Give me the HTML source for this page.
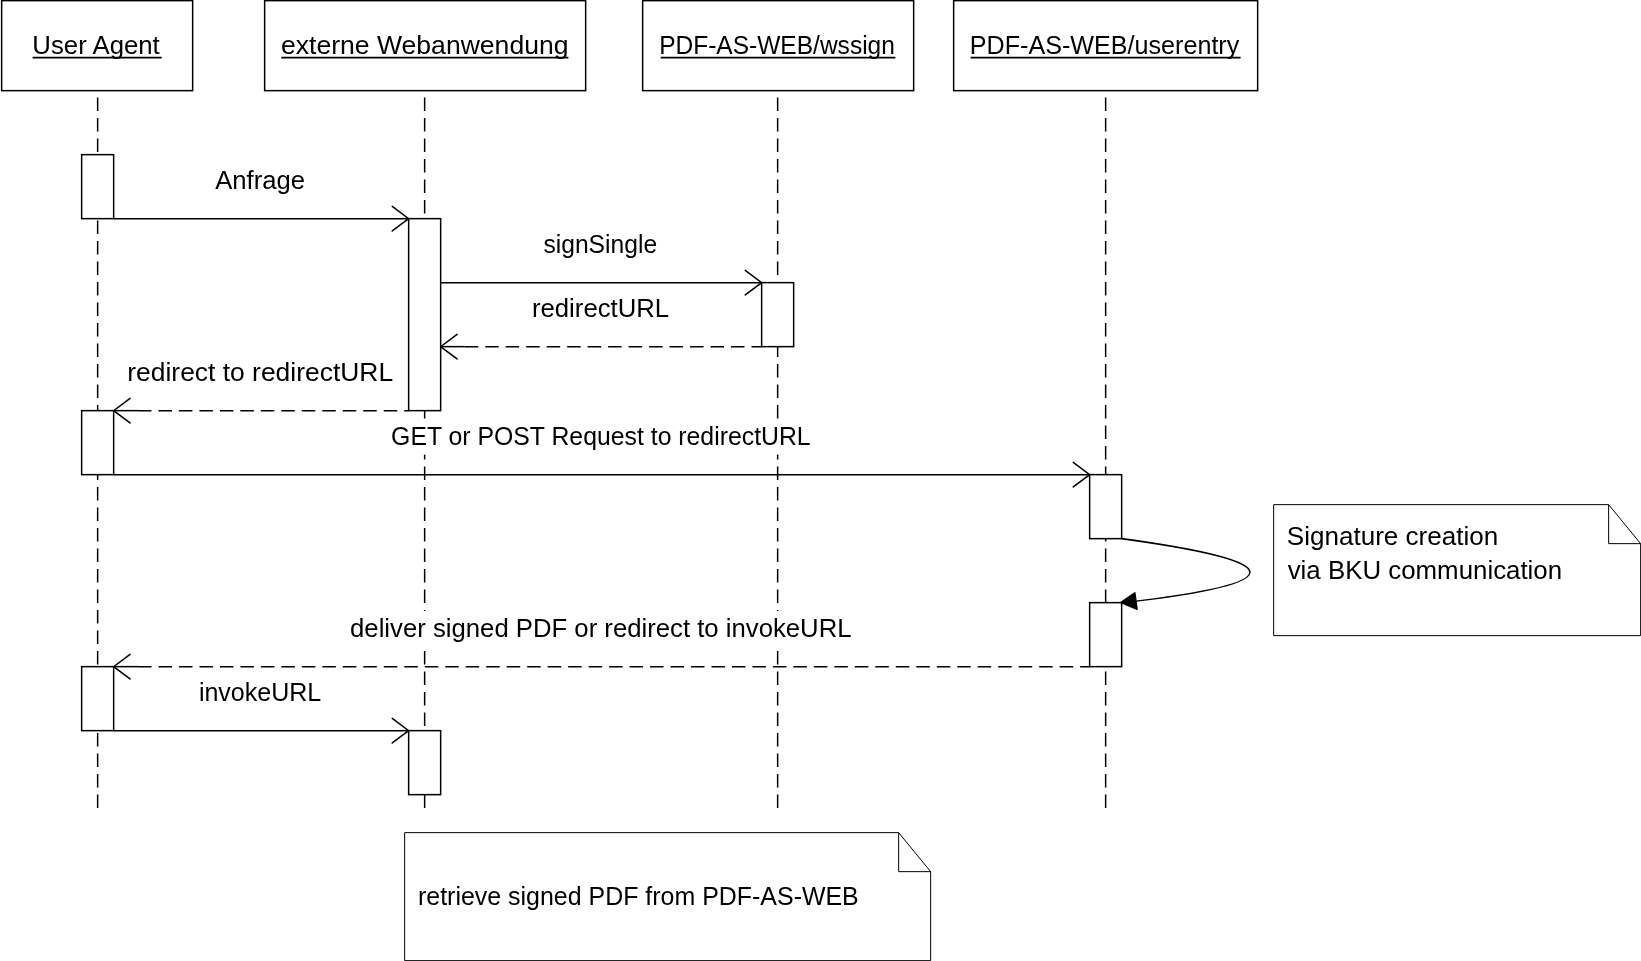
<!DOCTYPE html><html><head><meta charset="utf-8"><style>html,body{margin:0;padding:0;background:#fff;width:1641px;height:961px;overflow:hidden}svg{display:block;will-change:transform}text{font-family:"Liberation Sans",sans-serif;font-size:25px;fill:#000}</style></head><body>
<svg width="1641" height="961" viewBox="0 0 1641 961">
<rect x="0" y="0" width="1641" height="961" fill="#fff"/>
<g transform="translate(0.15,0.15)">
<g fill="none" stroke="#000" stroke-width="1.5">
<rect x="1.5" y="0.5" width="191.0" height="90"/>
<rect x="264.5" y="0.5" width="321.0" height="90"/>
<rect x="642.5" y="0.5" width="271.0" height="90"/>
<rect x="953.5" y="0.5" width="304.0" height="90"/>
<line x1="97.5" y1="97.3" x2="97.5" y2="808.2" stroke-dasharray="13.6 6.9"/>
<line x1="424.5" y1="97.3" x2="424.5" y2="808.2" stroke-dasharray="13.6 6.9"/>
<line x1="777.5" y1="97.3" x2="777.5" y2="808.2" stroke-dasharray="13.6 6.9"/>
<line x1="1105.5" y1="97.3" x2="1105.5" y2="808.2" stroke-dasharray="13.6 6.9"/>
</g>
<rect x="212.2" y="162.9" width="95.8" height="35.7" fill="#fff"/>
<rect x="540.4" y="226.9" width="119.7" height="35.7" fill="#fff"/>
<rect x="528.9" y="290.9" width="143.2" height="35.7" fill="#fff"/>
<rect x="124.3" y="354.9" width="271.8" height="35.7" fill="#fff"/>
<rect x="388.1" y="418.8" width="425.5" height="35.7" fill="#fff"/>
<rect x="347.1" y="610.9" width="507.5" height="35.7" fill="#fff"/>
<rect x="195.9" y="674.9" width="128.4" height="35.7" fill="#fff"/>
<g fill="none" stroke="#000" stroke-width="1.5">
<line x1="113.5" y1="218.5" x2="408.5" y2="218.5"/>
<polyline points="392.1,206.2 408.5,218.5 392.1,230.8" stroke-linecap="round"/>
<line x1="440.5" y1="282.5" x2="761.5" y2="282.5"/>
<polyline points="745.1,270.2 761.5,282.5 745.1,294.8" stroke-linecap="round"/>
<line x1="113.5" y1="474.5" x2="1089.5" y2="474.5"/>
<polyline points="1073.1,462.2 1089.5,474.5 1073.1,486.8" stroke-linecap="round"/>
<line x1="113.5" y1="730.5" x2="408.5" y2="730.5"/>
<polyline points="392.1,718.2 408.5,730.5 392.1,742.8" stroke-linecap="round"/>
<line x1="440.5" y1="346.5" x2="464.6" y2="346.5"/>
<line x1="464.6" y1="346.5" x2="761.5" y2="346.5" stroke-dasharray="13.5 6.98"/>
<polyline points="456.9,334.2 440.5,346.5 456.9,358.8" stroke-linecap="round"/>
<line x1="113.5" y1="410.5" x2="137.8" y2="410.5"/>
<line x1="137.8" y1="410.5" x2="408.5" y2="410.5" stroke-dasharray="13.5 6.98"/>
<polyline points="129.9,398.2 113.5,410.5 129.9,422.8" stroke-linecap="round"/>
<line x1="113.5" y1="666.5" x2="137.9" y2="666.5"/>
<line x1="137.9" y1="666.5" x2="1089.5" y2="666.5" stroke-dasharray="13.5 6.98"/>
<polyline points="129.9,654.2 113.5,666.5 129.9,678.8" stroke-linecap="round"/>
<rect x="81.5" y="154.5" width="32" height="64.0" fill="#fff"/>
<rect x="408.5" y="218.5" width="32" height="192.0" fill="#fff"/>
<rect x="761.5" y="282.5" width="32" height="64.0" fill="#fff"/>
<rect x="81.5" y="410.5" width="32" height="64.0" fill="#fff"/>
<rect x="1089.5" y="474.5" width="32" height="64.0" fill="#fff"/>
<rect x="1089.5" y="602.5" width="32" height="64.0" fill="#fff"/>
<rect x="81.5" y="666.5" width="32" height="64.0" fill="#fff"/>
<rect x="408.5" y="730.5" width="32" height="64.0" fill="#fff"/>
<path d="M1121.5,538.5 C1292.2,561.9 1291.6,583.1 1125,602.3" stroke-width="1.65"/>
</g>
<polygon points="1120.9,602.3 1134.7,592.6 1136.9,609.1" fill="#000" stroke="#000" stroke-width="1.5" stroke-linejoin="round"/>
<g fill="none" stroke="#000" stroke-width="1.0">
<path d="M1273.5,504.5 H1608.5 L1640.5,543.5 V635.5 H1273.5 Z" fill="#fff"/>
<path d="M1608.5,504.5 V543.5 H1640.5"/>
<path d="M404.5,832.5 H898.5 L930.5,871.5 V960.5 H404.5 Z" fill="#fff"/>
<path d="M898.5,832.5 V871.5 H930.5"/>
</g>
</g>
<text x="32.34" y="53.5" textLength="127.44" lengthAdjust="spacingAndGlyphs">User Agent</text>
<text x="281.04" y="53.5" textLength="287.44" lengthAdjust="spacingAndGlyphs">externe Webanwendung</text>
<text x="659.14" y="53.5" textLength="235.75" lengthAdjust="spacingAndGlyphs">PDF-AS-WEB/wssign</text>
<text x="969.79" y="53.5" textLength="269.52" lengthAdjust="spacingAndGlyphs">PDF-AS-WEB/userentry</text>
<text x="215.2" y="188.9" textLength="89.78" lengthAdjust="spacingAndGlyphs">Anfrage</text>
<text x="543.41" y="252.9" textLength="113.74" lengthAdjust="spacingAndGlyphs">signSingle</text>
<text x="531.94" y="316.9" textLength="137.24" lengthAdjust="spacingAndGlyphs">redirectURL</text>
<text x="127.29" y="380.9" textLength="265.83" lengthAdjust="spacingAndGlyphs">redirect to redirectURL</text>
<text x="391.11" y="444.8" textLength="419.54" lengthAdjust="spacingAndGlyphs">GET or POST Request to redirectURL</text>
<text x="350.07" y="636.9" textLength="501.47" lengthAdjust="spacingAndGlyphs">deliver signed PDF or redirect to invokeURL</text>
<text x="198.9" y="700.9" textLength="122.38" lengthAdjust="spacingAndGlyphs">invokeURL</text>
<text x="1286.76" y="544.5" textLength="211.49" lengthAdjust="spacingAndGlyphs">Signature creation</text>
<text x="1287.7" y="578.5" textLength="274.44" lengthAdjust="spacingAndGlyphs">via BKU communication</text>
<text x="418.0" y="904.8" textLength="440.76" lengthAdjust="spacingAndGlyphs">retrieve signed PDF from PDF-AS-WEB</text>
<g stroke="#000" stroke-width="1.7">
<line x1="32.6" y1="57.7" x2="161.7" y2="57.7"/>
<line x1="281.3" y1="57.7" x2="568.4" y2="57.7"/>
<line x1="660.7" y1="57.7" x2="895.4" y2="57.7"/>
<line x1="970.6" y1="57.7" x2="1240.6" y2="57.7"/>
</g>
</svg></body></html>
